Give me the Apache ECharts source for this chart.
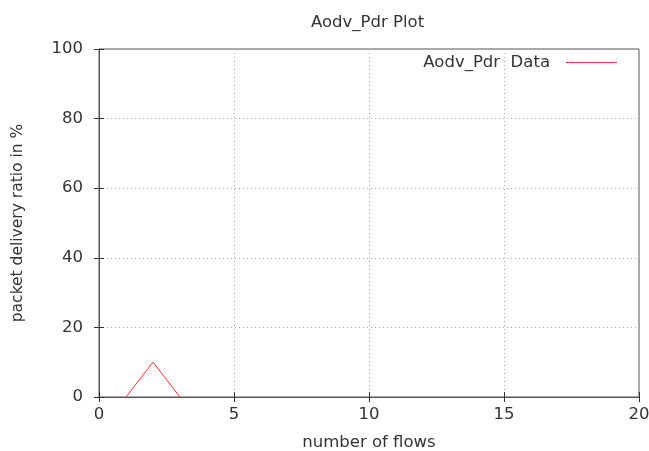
<!DOCTYPE html>
<html>
<head>
<meta charset="utf-8">
<script src="https://cdn.jsdelivr.net/npm/echarts@6/dist/echarts.min.js"></script>
<style>
  html, body { margin: 0; padding: 0; background: #fff; }
  #chart { width: 649px; height: 451px; }
</style>
</head>
<body>
<div id="chart"></div>
<script>
const flows = [1, 2, 3]
const pdrValues = [0, 10, 0]
const seriesName = 'Aodv_Pdr  Data'

const font = 'DejaVu Sans'
const textColor = '#333'
const fontSize = 16.5
const gridLine = {
  show: true,
  lineStyle: { color: '#aaa', type: [1, 3], width: 1 }
}
const tick = { show: true, inside: true, length: 5, lineStyle: { color: '#333' } }

const chart = echarts.init(document.getElementById('chart'))

chart.setOption({
  animation: false,
  backgroundColor: '#fff',
  textStyle: { fontFamily: font },
  title: {
    text: 'Aodv_Pdr Plot',
    left: 306,
    top: 9,
    textStyle: { fontFamily: font, fontSize: fontSize, fontWeight: 'normal', color: textColor }
  },
  legend: {
    right: 27,
    top: 49,
    align: 'right',
    itemWidth: 51,
    itemHeight: 1,
    itemGap: 10,
    textStyle: { fontFamily: font, fontSize: fontSize, color: textColor, padding: [0, 11, 0, 0] },
    data: [{ name: seriesName, icon: 'rect' }]
  },
  grid: {
    left: 99,
    right: 10,
    top: 49,
    bottom: 54,
    containLabel: false,
    outerBoundsMode: 'none',
    show: true,
    borderColor: '#555',
    borderWidth: 1
  },
  xAxis: [{
    type: 'value',
    min: 0,
    max: 20,
    interval: 5,
    name: 'number of flows',
    nameLocation: 'middle',
    nameGap: 37,
    nameTextStyle: { fontFamily: font, fontSize: fontSize, color: textColor },
    axisLine: { lineStyle: { color: '#555' } },
    axisTick: tick,
    axisLabel: { fontFamily: font, fontSize: fontSize, color: textColor, margin: 9 },
    splitLine: gridLine
  }, {
    type: 'value',
    position: 'top',
    min: 0,
    max: 20,
    interval: 5,
    axisLine: { show: false },
    axisTick: tick,
    axisLabel: { show: false },
    splitLine: { show: false }
  }],
  yAxis: [{
    type: 'value',
    min: 0,
    max: 100,
    interval: 20,
    name: 'packet delivery ratio in %',
    nameLocation: 'middle',
    nameGap: 73,
    nameTextStyle: { fontFamily: font, fontSize: 15.5, color: textColor },
    axisLine: { show: true, lineStyle: { color: '#555' } },
    axisTick: tick,
    axisLabel: { fontFamily: font, fontSize: fontSize, color: textColor, margin: 16 },
    splitLine: gridLine
  }, {
    type: 'value',
    position: 'right',
    min: 0,
    max: 100,
    interval: 20,
    axisLine: { show: false },
    axisTick: tick,
    axisLabel: { show: false },
    splitLine: { show: false }
  }],
  series: [{
    name: seriesName,
    type: 'line',
    symbol: 'none',
    color: '#ff3030',
    lineStyle: { color: '#ff3030', width: 1 },
    data: flows.map((f, i) => [f, pdrValues[i]])
  }]
})
</script>
</body>
</html>
